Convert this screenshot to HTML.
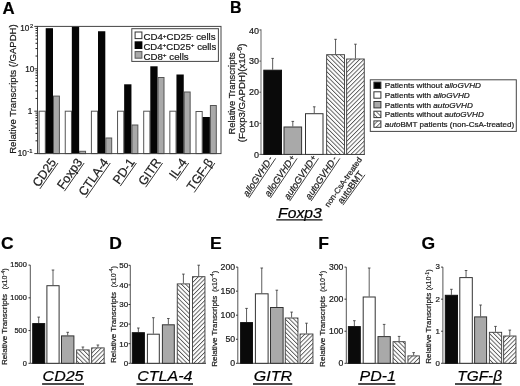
<!DOCTYPE html>
<html><head><meta charset="utf-8"><style>
html,body{margin:0;padding:0;background:#fff;}
svg{display:block;font-family:"Liberation Sans",sans-serif;filter:blur(0.3px);}
text{stroke:#222;stroke-width:0.22px;paint-order:stroke;}
</style></head><body>
<svg width="520" height="386" viewBox="0 0 520 386">
<defs>
<pattern id="hb" patternUnits="userSpaceOnUse" width="3.05" height="3.05" patternTransform="rotate(-45)"><rect width="3.05" height="3.05" fill="#fff"/><line x1="0.5" y1="0" x2="0.5" y2="3.05" stroke="#333" stroke-width="0.75"/></pattern>
<pattern id="hf" patternUnits="userSpaceOnUse" width="3.05" height="3.05" patternTransform="rotate(45)"><rect width="3.05" height="3.05" fill="#fff"/><line x1="0.5" y1="0" x2="0.5" y2="3.05" stroke="#333" stroke-width="0.75"/></pattern>
<pattern id="hbs" patternUnits="userSpaceOnUse" width="3.3" height="3.3" patternTransform="translate(374,82) rotate(-45)"><rect width="3.3" height="3.3" fill="#fff"/><line x1="0.5" y1="0" x2="0.5" y2="3.3" stroke="#444" stroke-width="0.75"/></pattern>
<pattern id="hfs" patternUnits="userSpaceOnUse" width="3.3" height="3.3" patternTransform="translate(374,82) rotate(45)"><rect width="3.3" height="3.3" fill="#fff"/><line x1="0.5" y1="0" x2="0.5" y2="3.3" stroke="#444" stroke-width="0.75"/></pattern>
</defs>
<rect width="520" height="386" fill="#fff"/>
<text x="2.60" y="14.20" font-size="16.8" text-anchor="start" font-weight="bold" font-style="normal" fill="#000" >A</text>
<rect x="39.10" y="111.20" width="6.20" height="42.40" fill="#fff" stroke="#555" stroke-width="1"/>
<rect x="45.70" y="28.20" width="7.3" height="125.40" fill="#050505"/>
<rect x="53.50" y="96.10" width="5.90" height="57.50" fill="#a9a9a9" stroke="#555" stroke-width="1"/>
<rect x="65.25" y="111.20" width="6.20" height="42.40" fill="#fff" stroke="#555" stroke-width="1"/>
<rect x="71.85" y="26.40" width="7.3" height="127.20" fill="#050505"/>
<rect x="79.65" y="151.30" width="5.90" height="2.30" fill="#a9a9a9" stroke="#555" stroke-width="1"/>
<rect x="91.40" y="111.20" width="6.20" height="42.40" fill="#fff" stroke="#555" stroke-width="1"/>
<rect x="98.00" y="31.25" width="7.3" height="122.35" fill="#050505"/>
<rect x="105.80" y="138.00" width="5.90" height="15.60" fill="#a9a9a9" stroke="#555" stroke-width="1"/>
<rect x="117.55" y="111.20" width="6.20" height="42.40" fill="#fff" stroke="#555" stroke-width="1"/>
<rect x="124.15" y="84.30" width="7.3" height="69.30" fill="#050505"/>
<rect x="131.95" y="125.00" width="5.90" height="28.60" fill="#a9a9a9" stroke="#555" stroke-width="1"/>
<rect x="143.70" y="111.20" width="6.20" height="42.40" fill="#fff" stroke="#555" stroke-width="1"/>
<rect x="150.30" y="66.30" width="7.3" height="87.30" fill="#050505"/>
<rect x="158.10" y="77.50" width="5.90" height="76.10" fill="#a9a9a9" stroke="#555" stroke-width="1"/>
<rect x="169.85" y="111.20" width="6.20" height="42.40" fill="#fff" stroke="#555" stroke-width="1"/>
<rect x="176.45" y="74.50" width="7.3" height="79.10" fill="#050505"/>
<rect x="184.25" y="92.00" width="5.90" height="61.60" fill="#a9a9a9" stroke="#555" stroke-width="1"/>
<rect x="196.00" y="111.50" width="6.20" height="42.10" fill="#fff" stroke="#555" stroke-width="1"/>
<rect x="202.60" y="117.00" width="7.3" height="36.60" fill="#050505"/>
<rect x="210.40" y="105.50" width="5.90" height="48.10" fill="#a9a9a9" stroke="#555" stroke-width="1"/>
<rect x="37.5" y="26.4" width="183.5" height="127.19999999999999" fill="none" stroke="#444" stroke-width="1"/>
<line x1="34.30" y1="153.60" x2="37.50" y2="153.60" stroke="#333" stroke-width="1"/>
<line x1="35.50" y1="140.84" x2="37.50" y2="140.84" stroke="#222" stroke-width="1.0"/>
<line x1="35.50" y1="133.37" x2="37.50" y2="133.37" stroke="#222" stroke-width="1.0"/>
<line x1="35.50" y1="128.07" x2="37.50" y2="128.07" stroke="#222" stroke-width="1.0"/>
<line x1="35.50" y1="123.96" x2="37.50" y2="123.96" stroke="#222" stroke-width="1.0"/>
<line x1="35.50" y1="120.61" x2="37.50" y2="120.61" stroke="#222" stroke-width="1.0"/>
<line x1="35.50" y1="117.77" x2="37.50" y2="117.77" stroke="#222" stroke-width="1.0"/>
<line x1="35.50" y1="115.31" x2="37.50" y2="115.31" stroke="#222" stroke-width="1.0"/>
<line x1="35.50" y1="113.14" x2="37.50" y2="113.14" stroke="#222" stroke-width="1.0"/>
<line x1="34.30" y1="111.20" x2="37.50" y2="111.20" stroke="#333" stroke-width="1"/>
<line x1="35.50" y1="98.44" x2="37.50" y2="98.44" stroke="#222" stroke-width="1.0"/>
<line x1="35.50" y1="90.97" x2="37.50" y2="90.97" stroke="#222" stroke-width="1.0"/>
<line x1="35.50" y1="85.67" x2="37.50" y2="85.67" stroke="#222" stroke-width="1.0"/>
<line x1="35.50" y1="81.56" x2="37.50" y2="81.56" stroke="#222" stroke-width="1.0"/>
<line x1="35.50" y1="78.21" x2="37.50" y2="78.21" stroke="#222" stroke-width="1.0"/>
<line x1="35.50" y1="75.37" x2="37.50" y2="75.37" stroke="#222" stroke-width="1.0"/>
<line x1="35.50" y1="72.91" x2="37.50" y2="72.91" stroke="#222" stroke-width="1.0"/>
<line x1="35.50" y1="70.74" x2="37.50" y2="70.74" stroke="#222" stroke-width="1.0"/>
<line x1="34.30" y1="68.80" x2="37.50" y2="68.80" stroke="#333" stroke-width="1"/>
<line x1="35.50" y1="56.04" x2="37.50" y2="56.04" stroke="#222" stroke-width="1.0"/>
<line x1="35.50" y1="48.57" x2="37.50" y2="48.57" stroke="#222" stroke-width="1.0"/>
<line x1="35.50" y1="43.27" x2="37.50" y2="43.27" stroke="#222" stroke-width="1.0"/>
<line x1="35.50" y1="39.16" x2="37.50" y2="39.16" stroke="#222" stroke-width="1.0"/>
<line x1="35.50" y1="35.81" x2="37.50" y2="35.81" stroke="#222" stroke-width="1.0"/>
<line x1="35.50" y1="32.97" x2="37.50" y2="32.97" stroke="#222" stroke-width="1.0"/>
<line x1="35.50" y1="30.51" x2="37.50" y2="30.51" stroke="#222" stroke-width="1.0"/>
<line x1="35.50" y1="28.34" x2="37.50" y2="28.34" stroke="#222" stroke-width="1.0"/>
<line x1="34.30" y1="26.40" x2="37.50" y2="26.40" stroke="#333" stroke-width="1"/>
<text x="29.40" y="30.60" font-size="8.2" text-anchor="end" font-weight="normal" font-style="normal" fill="#1a1a1a" >10</text>
<text x="30.00" y="28.00" font-size="5.8" text-anchor="start" font-weight="normal" font-style="normal" fill="#1a1a1a" >2</text>
<text x="34.40" y="71.90" font-size="8.2" text-anchor="end" font-weight="normal" font-style="normal" fill="#1a1a1a" >10</text>
<text x="32.40" y="114.10" font-size="8.2" text-anchor="end" font-weight="normal" font-style="normal" fill="#1a1a1a" >1</text>
<text x="26.90" y="156.00" font-size="8.2" text-anchor="end" font-weight="normal" font-style="normal" fill="#1a1a1a" >10</text>
<text x="27.30" y="153.20" font-size="5.8" text-anchor="start" font-weight="normal" font-style="normal" fill="#1a1a1a" >-1</text>
<text transform="translate(15.7,153.8) rotate(-90)" font-size="9.9" textLength="129.5" lengthAdjust="spacingAndGlyphs" fill="#1a1a1a">Relative Transcripts (/GAPDH)</text>
<rect x="131.80" y="28.70" width="86.60" height="32.70" fill="#fff" stroke="#444" stroke-width="1"/>
<rect x="135.10" y="32.00" width="6.80" height="6.60" fill="#fff" stroke="#333" stroke-width="1"/>
<rect x="134.6" y="41.3" width="7.8" height="7.7" fill="#000"/>
<rect x="135.10" y="51.60" width="6.80" height="6.60" fill="#a9a9a9" stroke="#555" stroke-width="1"/>
<text x="143.4" y="40.10" font-size="9" textLength="72.2" lengthAdjust="spacingAndGlyphs" fill="#1a1a1a">CD4<tspan font-size="6" dy="-2.6">+</tspan><tspan dy="2.6">CD25</tspan><tspan font-size="6" dy="-2.6">-</tspan><tspan dy="2.6"> cells</tspan></text>
<text x="143.4" y="49.80" font-size="9" textLength="72.9" lengthAdjust="spacingAndGlyphs" fill="#1a1a1a">CD4<tspan font-size="6" dy="-2.6">+</tspan><tspan dy="2.6">CD25</tspan><tspan font-size="6" dy="-2.6">+</tspan><tspan dy="2.6"> cells</tspan></text>
<text x="143.4" y="59.50" font-size="9" textLength="45.3" lengthAdjust="spacingAndGlyphs" fill="#1a1a1a">CD8<tspan font-size="6" dy="-2.6">+</tspan><tspan dy="2.6"> cells</tspan></text>
<g transform="translate(58.00,163.00) rotate(-55)"><text x="-31.45" y="-1.60" font-size="12.3" font-style="normal" fill="#1a1a1a">CD25</text><line x1="-31.65" y1="0" x2="0" y2="0" stroke="#1a1a1a" stroke-width="0.8"/></g>
<g transform="translate(84.15,163.00) rotate(-55)"><text x="-34.18" y="-1.60" font-size="12.3" font-style="normal" fill="#1a1a1a">Foxp3</text><line x1="-34.38" y1="0" x2="0" y2="0" stroke="#1a1a1a" stroke-width="0.8"/></g>
<g transform="translate(110.30,163.00) rotate(-55)"><text x="-42.38" y="-1.60" font-size="12.3" font-style="normal" fill="#1a1a1a">CTLA-4</text><line x1="-42.58" y1="0" x2="0" y2="0" stroke="#1a1a1a" stroke-width="0.8"/></g>
<g transform="translate(136.45,163.00) rotate(-55)"><text x="-28.02" y="-1.60" font-size="12.3" font-style="normal" fill="#1a1a1a">PD-1</text><line x1="-28.22" y1="0" x2="0" y2="0" stroke="#1a1a1a" stroke-width="0.8"/></g>
<g transform="translate(162.60,163.00) rotate(-55)"><text x="-29.38" y="-1.60" font-size="12.3" font-style="normal" fill="#1a1a1a">GITR</text><line x1="-29.58" y1="0" x2="0" y2="0" stroke="#1a1a1a" stroke-width="0.8"/></g>
<g transform="translate(188.75,163.00) rotate(-55)"><text x="-21.19" y="-1.60" font-size="12.3" font-style="normal" fill="#1a1a1a">IL-4</text><line x1="-21.39" y1="0" x2="0" y2="0" stroke="#1a1a1a" stroke-width="0.8"/></g>
<g transform="translate(214.90,163.00) rotate(-55)"><text x="-35.76" y="-1.60" font-size="12.3" font-style="normal" fill="#1a1a1a">TGF-β</text><line x1="-35.96" y1="0" x2="0" y2="0" stroke="#1a1a1a" stroke-width="0.8"/></g>
<text x="230.00" y="12.90" font-size="16" text-anchor="start" font-weight="bold" font-style="normal" fill="#000" >B</text>
<line x1="261.00" y1="29.30" x2="261.00" y2="154.40" stroke="#666" stroke-width="1"/>
<line x1="261.00" y1="154.40" x2="364.80" y2="154.40" stroke="#444" stroke-width="1"/>
<line x1="259.40" y1="154.40" x2="261.00" y2="154.40" stroke="#555" stroke-width="1"/>
<text x="258.90" y="157.60" font-size="9.0" text-anchor="end" font-weight="normal" font-style="normal" fill="#1a1a1a" >0</text>
<line x1="259.40" y1="123.30" x2="261.00" y2="123.30" stroke="#555" stroke-width="1"/>
<text x="258.90" y="126.50" font-size="9.0" text-anchor="end" font-weight="normal" font-style="normal" fill="#1a1a1a" >10</text>
<line x1="259.40" y1="92.20" x2="261.00" y2="92.20" stroke="#555" stroke-width="1"/>
<text x="258.90" y="95.40" font-size="9.0" text-anchor="end" font-weight="normal" font-style="normal" fill="#1a1a1a" >20</text>
<line x1="259.40" y1="61.10" x2="261.00" y2="61.10" stroke="#555" stroke-width="1"/>
<text x="258.90" y="64.30" font-size="9.0" text-anchor="end" font-weight="normal" font-style="normal" fill="#1a1a1a" >30</text>
<line x1="259.40" y1="30.00" x2="261.00" y2="30.00" stroke="#555" stroke-width="1"/>
<text x="258.90" y="34.20" font-size="9.0" text-anchor="end" font-weight="normal" font-style="normal" fill="#1a1a1a" >40</text>
<line x1="272.65" y1="58.40" x2="272.65" y2="69.70" stroke="#333" stroke-width="0.8"/>
<line x1="271.35" y1="58.40" x2="273.95" y2="58.40" stroke="#333" stroke-width="0.8"/>
<rect x="263.80" y="70.20" width="17.70" height="84.20" fill="#0a0a0a" stroke="#111" stroke-width="1"/>
<line x1="292.80" y1="121.40" x2="292.80" y2="126.50" stroke="#333" stroke-width="0.8"/>
<line x1="291.50" y1="121.40" x2="294.10" y2="121.40" stroke="#333" stroke-width="0.8"/>
<rect x="284.00" y="127.00" width="17.60" height="27.40" fill="#a9a9a9" stroke="#333" stroke-width="1"/>
<line x1="314.25" y1="106.80" x2="314.25" y2="113.20" stroke="#333" stroke-width="0.8"/>
<line x1="312.95" y1="106.80" x2="315.55" y2="106.80" stroke="#333" stroke-width="0.8"/>
<rect x="305.50" y="113.70" width="17.50" height="40.70" fill="#fff" stroke="#333" stroke-width="1"/>
<line x1="335.55" y1="39.30" x2="335.55" y2="54.20" stroke="#333" stroke-width="0.8"/>
<line x1="334.25" y1="39.30" x2="336.85" y2="39.30" stroke="#333" stroke-width="0.8"/>
<rect x="326.65" y="54.70" width="17.80" height="99.70" fill="url(#hb)" stroke="#3a3a3a" stroke-width="0.9"/>
<line x1="355.45" y1="44.20" x2="355.45" y2="58.50" stroke="#333" stroke-width="0.8"/>
<line x1="354.15" y1="44.20" x2="356.75" y2="44.20" stroke="#333" stroke-width="0.8"/>
<rect x="346.65" y="59.00" width="17.60" height="95.40" fill="url(#hf)" stroke="#3a3a3a" stroke-width="0.9"/>
<text transform="translate(235.4,134.6) rotate(-90)" font-size="9.2" textLength="82.3" lengthAdjust="spacingAndGlyphs" fill="#1a1a1a">Relative Transcripts</text>
<text transform="translate(245.0,142.2) rotate(-90)" font-size="9.2" textLength="98.6" lengthAdjust="spacingAndGlyphs" fill="#1a1a1a">(Foxp3/GAPDH)(x10<tspan font-size="6.6" dy="-3.4">-6</tspan><tspan dy="3.4">)</tspan></text>
<rect x="370.30" y="79.80" width="146.00" height="51.60" fill="#fff" stroke="#444" stroke-width="1"/>
<rect x="373.90" y="82.10" width="7.00" height="6.40" fill="#000" stroke="#333" stroke-width="1"/>
<text x="384.8" y="88.30" font-size="8" textLength="96.2" lengthAdjust="spacingAndGlyphs" fill="#1a1a1a">Patients without <tspan font-style="italic">alloGVHD</tspan></text>
<rect x="373.90" y="91.80" width="7.00" height="6.40" fill="#fff" stroke="#333" stroke-width="1"/>
<text x="384.8" y="98.00" font-size="8" textLength="85.0" lengthAdjust="spacingAndGlyphs" fill="#1a1a1a">Patients with <tspan font-style="italic">alloGVHD</tspan></text>
<rect x="373.90" y="101.50" width="7.00" height="6.40" fill="#a9a9a9" stroke="#333" stroke-width="1"/>
<text x="384.8" y="107.70" font-size="8" textLength="88.0" lengthAdjust="spacingAndGlyphs" fill="#1a1a1a">Patients with <tspan font-style="italic">autoGVHD</tspan></text>
<rect x="373.90" y="111.20" width="7.00" height="6.40" fill="url(#hbs)" stroke="#333" stroke-width="1"/>
<text x="384.8" y="117.40" font-size="8" textLength="99.0" lengthAdjust="spacingAndGlyphs" fill="#1a1a1a">Patients without <tspan font-style="italic">autoGVHD</tspan></text>
<rect x="373.90" y="120.90" width="7.00" height="6.40" fill="url(#hfs)" stroke="#333" stroke-width="1"/>
<text x="384.8" y="127.10" font-size="8" textLength="129.4" lengthAdjust="spacingAndGlyphs" fill="#1a1a1a"><tspan font-style="italic">auto</tspan>BMT patients (non-CsA-treated)</text>
<g transform="translate(275.60,158.40) rotate(-56)"><text x="-47.69" y="-1.40" font-size="9.4" font-style="italic" fill="#1a1a1a">alloGVHD</text><line x1="-47.89" y1="0" x2="0" y2="0" stroke="#1a1a1a" stroke-width="0.75"/><text x="-4.30" y="-2.30" font-size="8.2" fill="#1a1a1a">-</text></g>
<g transform="translate(297.10,158.40) rotate(-56)"><text x="-47.69" y="-1.40" font-size="9.4" font-style="italic" fill="#1a1a1a">alloGVHD</text><line x1="-47.89" y1="0" x2="0" y2="0" stroke="#1a1a1a" stroke-width="0.75"/><text x="-5.00" y="-2.30" font-size="8.2" fill="#1a1a1a">+</text></g>
<g transform="translate(318.50,158.40) rotate(-56)"><text x="-51.35" y="-1.40" font-size="9.4" font-style="italic" fill="#1a1a1a">autoGVHD</text><line x1="-51.55" y1="0" x2="0" y2="0" stroke="#1a1a1a" stroke-width="0.75"/><text x="-5.00" y="-2.30" font-size="8.2" fill="#1a1a1a">+</text></g>
<g transform="translate(339.90,158.40) rotate(-56)"><text x="-51.35" y="-1.40" font-size="9.4" font-style="italic" fill="#1a1a1a">autoGVHD</text><line x1="-51.55" y1="0" x2="0" y2="0" stroke="#1a1a1a" stroke-width="0.75"/><text x="-4.30" y="-2.30" font-size="8.2" fill="#1a1a1a">-</text></g>
<g transform="translate(362.40,159.60) rotate(-55)"><text x="-58.69" y="0.00" font-size="8.0" font-style="normal" fill="#1a1a1a">non-CsA-treated</text></g>
<g transform="translate(365.00,174.80) rotate(-54)"><text x="-37.32" y="-1.40" font-size="9.2" font-style="normal" fill="#1a1a1a">autoBMT</text><line x1="-37.52" y1="0" x2="0" y2="0" stroke="#1a1a1a" stroke-width="0.75"/></g>
<text x="278.1" y="217.6" font-size="15.2" font-style="italic" textLength="43.67" lengthAdjust="spacingAndGlyphs" fill="#000">Foxp3</text>
<line x1="276.30" y1="219.90" x2="322.50" y2="219.90" stroke="#111" stroke-width="1.3"/>
<text transform="translate(0.90,248.8) scale(1.1,1)" font-size="15.9" font-weight="bold" fill="#000">C</text>
<line x1="30.30" y1="265.10" x2="30.30" y2="363.30" stroke="#555" stroke-width="1"/>
<line x1="30.30" y1="363.30" x2="105.40" y2="363.30" stroke="#444" stroke-width="1"/>
<line x1="28.50" y1="363.30" x2="30.30" y2="363.30" stroke="#333" stroke-width="1"/>
<text x="26.80" y="365.95" font-size="7.4" text-anchor="end" font-weight="normal" font-style="normal" fill="#1a1a1a" >0</text>
<line x1="28.50" y1="330.57" x2="30.30" y2="330.57" stroke="#333" stroke-width="1"/>
<text x="26.80" y="333.22" font-size="7.4" text-anchor="end" font-weight="normal" font-style="normal" fill="#1a1a1a" >500</text>
<line x1="28.50" y1="297.83" x2="30.30" y2="297.83" stroke="#333" stroke-width="1"/>
<text x="26.80" y="300.48" font-size="7.4" text-anchor="end" font-weight="normal" font-style="normal" fill="#1a1a1a" >1000</text>
<line x1="28.50" y1="265.10" x2="30.30" y2="265.10" stroke="#333" stroke-width="1"/>
<text x="26.80" y="267.15" font-size="7.4" text-anchor="end" font-weight="normal" font-style="normal" fill="#1a1a1a" >1500</text>
<line x1="38.70" y1="317.10" x2="38.70" y2="323.10" stroke="#333" stroke-width="0.8"/>
<line x1="37.40" y1="317.10" x2="40.00" y2="317.10" stroke="#333" stroke-width="0.8"/>
<rect x="32.70" y="323.60" width="12.00" height="39.70" fill="#0a0a0a" stroke="#111" stroke-width="1"/>
<line x1="53.00" y1="270.00" x2="53.00" y2="285.20" stroke="#333" stroke-width="0.8"/>
<line x1="51.70" y1="270.00" x2="54.30" y2="270.00" stroke="#333" stroke-width="0.8"/>
<rect x="46.90" y="285.70" width="12.20" height="77.60" fill="#fff" stroke="#333" stroke-width="1"/>
<line x1="67.70" y1="332.30" x2="67.70" y2="335.40" stroke="#333" stroke-width="0.8"/>
<line x1="66.40" y1="332.30" x2="69.00" y2="332.30" stroke="#333" stroke-width="0.8"/>
<rect x="61.50" y="335.90" width="12.40" height="27.40" fill="#a9a9a9" stroke="#333" stroke-width="1"/>
<line x1="82.90" y1="347.00" x2="82.90" y2="349.40" stroke="#333" stroke-width="0.8"/>
<line x1="81.60" y1="347.00" x2="84.20" y2="347.00" stroke="#333" stroke-width="0.8"/>
<rect x="76.65" y="349.90" width="12.50" height="13.40" fill="url(#hb)" stroke="#3a3a3a" stroke-width="0.9"/>
<line x1="97.90" y1="345.00" x2="97.90" y2="347.40" stroke="#333" stroke-width="0.8"/>
<line x1="96.60" y1="345.00" x2="99.20" y2="345.00" stroke="#333" stroke-width="0.8"/>
<rect x="91.65" y="347.90" width="12.50" height="15.40" fill="url(#hf)" stroke="#3a3a3a" stroke-width="0.9"/>
<text x="42.60" y="381.2" font-size="15" font-style="italic" textLength="40.91" lengthAdjust="spacingAndGlyphs" fill="#000">CD25</text>
<line x1="42.10" y1="384.00" x2="84.00" y2="384.00" stroke="#111" stroke-width="1.3"/>
<g transform="translate(7.30,365.00) rotate(-90)"><text x="0" y="0" font-size="8.1" fill="#1a1a1a">Relative Transcripts</text><text x="75.50" y="0" font-size="6.4" textLength="21.3" lengthAdjust="spacingAndGlyphs" fill="#1a1a1a" style="stroke-width:0.12px">(x10<tspan font-size="4.7" dy="-2.5">-4</tspan><tspan dy="2.5">)</tspan></text></g>
<text transform="translate(109.30,248.8) scale(1.1,1)" font-size="15.9" font-weight="bold" fill="#000">D</text>
<line x1="130.30" y1="265.30" x2="130.30" y2="363.30" stroke="#555" stroke-width="1"/>
<line x1="130.30" y1="363.30" x2="206.00" y2="363.30" stroke="#444" stroke-width="1"/>
<line x1="128.50" y1="363.30" x2="130.30" y2="363.30" stroke="#333" stroke-width="1"/>
<text x="128.20" y="366.16" font-size="8.0" text-anchor="end" font-weight="normal" font-style="normal" fill="#1a1a1a" >0</text>
<line x1="128.50" y1="343.70" x2="130.30" y2="343.70" stroke="#333" stroke-width="1"/>
<text x="128.20" y="346.56" font-size="8.0" text-anchor="end" font-weight="normal" font-style="normal" fill="#1a1a1a" >10</text>
<line x1="128.50" y1="324.10" x2="130.30" y2="324.10" stroke="#333" stroke-width="1"/>
<text x="128.20" y="326.96" font-size="8.0" text-anchor="end" font-weight="normal" font-style="normal" fill="#1a1a1a" >20</text>
<line x1="128.50" y1="304.50" x2="130.30" y2="304.50" stroke="#333" stroke-width="1"/>
<text x="128.20" y="307.36" font-size="8.0" text-anchor="end" font-weight="normal" font-style="normal" fill="#1a1a1a" >30</text>
<line x1="128.50" y1="284.90" x2="130.30" y2="284.90" stroke="#333" stroke-width="1"/>
<text x="128.20" y="287.76" font-size="8.0" text-anchor="end" font-weight="normal" font-style="normal" fill="#1a1a1a" >40</text>
<line x1="128.50" y1="265.30" x2="130.30" y2="265.30" stroke="#333" stroke-width="1"/>
<text x="128.20" y="267.56" font-size="8.0" text-anchor="end" font-weight="normal" font-style="normal" fill="#1a1a1a" >50</text>
<line x1="138.35" y1="328.00" x2="138.35" y2="332.20" stroke="#333" stroke-width="0.8"/>
<line x1="137.05" y1="328.00" x2="139.65" y2="328.00" stroke="#333" stroke-width="0.8"/>
<rect x="132.30" y="332.70" width="12.10" height="30.60" fill="#0a0a0a" stroke="#111" stroke-width="1"/>
<line x1="153.35" y1="317.70" x2="153.35" y2="333.70" stroke="#333" stroke-width="0.8"/>
<line x1="152.05" y1="317.70" x2="154.65" y2="317.70" stroke="#333" stroke-width="0.8"/>
<rect x="147.40" y="334.20" width="11.90" height="29.10" fill="#fff" stroke="#333" stroke-width="1"/>
<line x1="168.35" y1="318.50" x2="168.35" y2="324.30" stroke="#333" stroke-width="0.8"/>
<line x1="167.05" y1="318.50" x2="169.65" y2="318.50" stroke="#333" stroke-width="0.8"/>
<rect x="162.40" y="324.80" width="11.90" height="38.50" fill="#a9a9a9" stroke="#333" stroke-width="1"/>
<line x1="183.40" y1="274.10" x2="183.40" y2="283.40" stroke="#333" stroke-width="0.8"/>
<line x1="182.10" y1="274.10" x2="184.70" y2="274.10" stroke="#333" stroke-width="0.8"/>
<rect x="177.25" y="283.90" width="12.30" height="79.40" fill="url(#hb)" stroke="#3a3a3a" stroke-width="0.9"/>
<line x1="198.70" y1="265.20" x2="198.70" y2="276.20" stroke="#333" stroke-width="0.8"/>
<line x1="197.40" y1="265.20" x2="200.00" y2="265.20" stroke="#333" stroke-width="0.8"/>
<rect x="192.45" y="276.70" width="12.50" height="86.60" fill="url(#hf)" stroke="#3a3a3a" stroke-width="0.9"/>
<text x="137.30" y="381.2" font-size="15" font-style="italic" textLength="55.12" lengthAdjust="spacingAndGlyphs" fill="#000">CTLA-4</text>
<line x1="136.50" y1="384.00" x2="193.00" y2="384.00" stroke="#111" stroke-width="1.3"/>
<g transform="translate(115.80,363.00) rotate(-90)"><text x="0" y="0" font-size="8.1" fill="#1a1a1a">Relative Transcripts</text><text x="75.60" y="0" font-size="6.4" textLength="21.3" lengthAdjust="spacingAndGlyphs" fill="#1a1a1a" style="stroke-width:0.12px">(x10<tspan font-size="4.7" dy="-2.5">-4</tspan><tspan dy="2.5">)</tspan></text></g>
<text transform="translate(209.90,248.8) scale(1.1,1)" font-size="15.9" font-weight="bold" fill="#000">E</text>
<line x1="237.80" y1="267.10" x2="237.80" y2="363.30" stroke="#555" stroke-width="1"/>
<line x1="237.80" y1="363.30" x2="313.50" y2="363.30" stroke="#444" stroke-width="1"/>
<line x1="236.00" y1="363.30" x2="237.80" y2="363.30" stroke="#333" stroke-width="1"/>
<text x="235.10" y="366.41" font-size="8.7" text-anchor="end" font-weight="normal" font-style="normal" fill="#1a1a1a" >0</text>
<line x1="236.00" y1="339.25" x2="237.80" y2="339.25" stroke="#333" stroke-width="1"/>
<text x="235.10" y="342.36" font-size="8.7" text-anchor="end" font-weight="normal" font-style="normal" fill="#1a1a1a" >50</text>
<line x1="236.00" y1="315.20" x2="237.80" y2="315.20" stroke="#333" stroke-width="1"/>
<text x="235.10" y="318.31" font-size="8.7" text-anchor="end" font-weight="normal" font-style="normal" fill="#1a1a1a" >100</text>
<line x1="236.00" y1="291.15" x2="237.80" y2="291.15" stroke="#333" stroke-width="1"/>
<text x="235.10" y="294.26" font-size="8.7" text-anchor="end" font-weight="normal" font-style="normal" fill="#1a1a1a" >150</text>
<line x1="236.00" y1="267.10" x2="237.80" y2="267.10" stroke="#333" stroke-width="1"/>
<text x="235.10" y="269.61" font-size="8.7" text-anchor="end" font-weight="normal" font-style="normal" fill="#1a1a1a" >200</text>
<line x1="246.55" y1="308.40" x2="246.55" y2="322.10" stroke="#333" stroke-width="0.8"/>
<line x1="245.25" y1="308.40" x2="247.85" y2="308.40" stroke="#333" stroke-width="0.8"/>
<rect x="240.60" y="322.60" width="11.90" height="40.70" fill="#0a0a0a" stroke="#111" stroke-width="1"/>
<line x1="261.75" y1="268.00" x2="261.75" y2="293.30" stroke="#333" stroke-width="0.8"/>
<line x1="260.45" y1="268.00" x2="263.05" y2="268.00" stroke="#333" stroke-width="0.8"/>
<rect x="255.40" y="293.80" width="12.70" height="69.50" fill="#fff" stroke="#333" stroke-width="1"/>
<line x1="276.80" y1="290.20" x2="276.80" y2="307.00" stroke="#333" stroke-width="0.8"/>
<line x1="275.50" y1="290.20" x2="278.10" y2="290.20" stroke="#333" stroke-width="0.8"/>
<rect x="270.50" y="307.50" width="12.60" height="55.80" fill="#a9a9a9" stroke="#333" stroke-width="1"/>
<line x1="291.60" y1="312.10" x2="291.60" y2="317.50" stroke="#333" stroke-width="0.8"/>
<line x1="290.30" y1="312.10" x2="292.90" y2="312.10" stroke="#333" stroke-width="0.8"/>
<rect x="285.25" y="318.00" width="12.70" height="45.30" fill="url(#hb)" stroke="#3a3a3a" stroke-width="0.9"/>
<line x1="306.50" y1="323.20" x2="306.50" y2="333.50" stroke="#333" stroke-width="0.8"/>
<line x1="305.20" y1="323.20" x2="307.80" y2="323.20" stroke="#333" stroke-width="0.8"/>
<rect x="300.05" y="334.00" width="12.90" height="29.30" fill="url(#hf)" stroke="#3a3a3a" stroke-width="0.9"/>
<text x="253.80" y="381.2" font-size="15" font-style="italic" textLength="38.22" lengthAdjust="spacingAndGlyphs" fill="#000">GITR</text>
<line x1="253.00" y1="384.00" x2="292.30" y2="384.00" stroke="#111" stroke-width="1.3"/>
<g transform="translate(216.60,366.80) rotate(-90)"><text x="0" y="0" font-size="8.1" fill="#1a1a1a">Relative Transcripts</text><text x="74.70" y="0" font-size="6.4" textLength="21.3" lengthAdjust="spacingAndGlyphs" fill="#1a1a1a" style="stroke-width:0.12px">(x10<tspan font-size="4.7" dy="-2.5">-4</tspan><tspan dy="2.5">)</tspan></text></g>
<text transform="translate(318.30,248.8) scale(1.1,1)" font-size="15.9" font-weight="bold" fill="#000">F</text>
<line x1="346.30" y1="267.10" x2="346.30" y2="363.30" stroke="#555" stroke-width="1"/>
<line x1="346.30" y1="363.30" x2="420.00" y2="363.30" stroke="#444" stroke-width="1"/>
<line x1="344.50" y1="363.30" x2="346.30" y2="363.30" stroke="#333" stroke-width="1"/>
<text x="343.40" y="366.41" font-size="8.7" text-anchor="end" font-weight="normal" font-style="normal" fill="#1a1a1a" >0</text>
<line x1="344.50" y1="331.23" x2="346.30" y2="331.23" stroke="#333" stroke-width="1"/>
<text x="343.40" y="334.35" font-size="8.7" text-anchor="end" font-weight="normal" font-style="normal" fill="#1a1a1a" >100</text>
<line x1="344.50" y1="299.17" x2="346.30" y2="299.17" stroke="#333" stroke-width="1"/>
<text x="343.40" y="302.28" font-size="8.7" text-anchor="end" font-weight="normal" font-style="normal" fill="#1a1a1a" >200</text>
<line x1="344.50" y1="267.10" x2="346.30" y2="267.10" stroke="#333" stroke-width="1"/>
<text x="343.40" y="269.61" font-size="8.7" text-anchor="end" font-weight="normal" font-style="normal" fill="#1a1a1a" >300</text>
<line x1="354.35" y1="320.70" x2="354.35" y2="326.10" stroke="#333" stroke-width="0.8"/>
<line x1="353.05" y1="320.70" x2="355.65" y2="320.70" stroke="#333" stroke-width="0.8"/>
<rect x="348.40" y="326.60" width="11.90" height="36.70" fill="#0a0a0a" stroke="#111" stroke-width="1"/>
<line x1="369.20" y1="268.00" x2="369.20" y2="296.50" stroke="#333" stroke-width="0.8"/>
<line x1="367.90" y1="268.00" x2="370.50" y2="268.00" stroke="#333" stroke-width="0.8"/>
<rect x="363.20" y="297.00" width="12.00" height="66.30" fill="#fff" stroke="#333" stroke-width="1"/>
<line x1="384.15" y1="324.40" x2="384.15" y2="336.10" stroke="#333" stroke-width="0.8"/>
<line x1="382.85" y1="324.40" x2="385.45" y2="324.40" stroke="#333" stroke-width="0.8"/>
<rect x="378.00" y="336.60" width="12.30" height="26.70" fill="#a9a9a9" stroke="#333" stroke-width="1"/>
<line x1="399.10" y1="336.40" x2="399.10" y2="341.20" stroke="#333" stroke-width="0.8"/>
<line x1="397.80" y1="336.40" x2="400.40" y2="336.40" stroke="#333" stroke-width="0.8"/>
<rect x="393.05" y="341.70" width="12.10" height="21.60" fill="url(#hb)" stroke="#3a3a3a" stroke-width="0.9"/>
<line x1="413.65" y1="352.60" x2="413.65" y2="355.40" stroke="#333" stroke-width="0.8"/>
<line x1="412.35" y1="352.60" x2="414.95" y2="352.60" stroke="#333" stroke-width="0.8"/>
<rect x="407.95" y="355.90" width="11.40" height="7.40" fill="url(#hf)" stroke="#3a3a3a" stroke-width="0.9"/>
<text x="359.50" y="381.2" font-size="15" font-style="italic" textLength="36.45" lengthAdjust="spacingAndGlyphs" fill="#000">PD-1</text>
<line x1="358.20" y1="384.00" x2="395.40" y2="384.00" stroke="#111" stroke-width="1.3"/>
<g transform="translate(325.20,366.90) rotate(-90)"><text x="0" y="0" font-size="8.1" fill="#1a1a1a">Relative Transcripts</text><text x="74.80" y="0" font-size="6.4" textLength="21.3" lengthAdjust="spacingAndGlyphs" fill="#1a1a1a" style="stroke-width:0.12px">(x10<tspan font-size="4.7" dy="-2.5">-4</tspan><tspan dy="2.5">)</tspan></text></g>
<text transform="translate(421.60,248.8) scale(1.1,1)" font-size="15.9" font-weight="bold" fill="#000">G</text>
<line x1="442.90" y1="267.10" x2="442.90" y2="363.30" stroke="#555" stroke-width="1"/>
<line x1="442.90" y1="363.30" x2="516.60" y2="363.30" stroke="#444" stroke-width="1"/>
<line x1="441.10" y1="363.30" x2="442.90" y2="363.30" stroke="#333" stroke-width="1"/>
<text x="439.80" y="366.13" font-size="7.9" text-anchor="end" font-weight="normal" font-style="normal" fill="#1a1a1a" >0</text>
<line x1="441.10" y1="331.23" x2="442.90" y2="331.23" stroke="#333" stroke-width="1"/>
<text x="439.80" y="334.06" font-size="7.9" text-anchor="end" font-weight="normal" font-style="normal" fill="#1a1a1a" >1</text>
<line x1="441.10" y1="299.17" x2="442.90" y2="299.17" stroke="#333" stroke-width="1"/>
<text x="439.80" y="301.99" font-size="7.9" text-anchor="end" font-weight="normal" font-style="normal" fill="#1a1a1a" >2</text>
<line x1="441.10" y1="267.10" x2="442.90" y2="267.10" stroke="#333" stroke-width="1"/>
<text x="439.80" y="269.33" font-size="7.9" text-anchor="end" font-weight="normal" font-style="normal" fill="#1a1a1a" >3</text>
<line x1="451.40" y1="289.30" x2="451.40" y2="294.80" stroke="#333" stroke-width="0.8"/>
<line x1="450.10" y1="289.30" x2="452.70" y2="289.30" stroke="#333" stroke-width="0.8"/>
<rect x="445.30" y="295.30" width="12.20" height="68.00" fill="#0a0a0a" stroke="#111" stroke-width="1"/>
<line x1="466.05" y1="270.50" x2="466.05" y2="277.10" stroke="#333" stroke-width="0.8"/>
<line x1="464.75" y1="270.50" x2="467.35" y2="270.50" stroke="#333" stroke-width="0.8"/>
<rect x="459.80" y="277.60" width="12.50" height="85.70" fill="#fff" stroke="#333" stroke-width="1"/>
<line x1="480.60" y1="305.00" x2="480.60" y2="316.40" stroke="#333" stroke-width="0.8"/>
<line x1="479.30" y1="305.00" x2="481.90" y2="305.00" stroke="#333" stroke-width="0.8"/>
<rect x="474.60" y="316.90" width="12.00" height="46.40" fill="#a9a9a9" stroke="#333" stroke-width="1"/>
<line x1="495.50" y1="326.40" x2="495.50" y2="331.80" stroke="#333" stroke-width="0.8"/>
<line x1="494.20" y1="326.40" x2="496.80" y2="326.40" stroke="#333" stroke-width="0.8"/>
<rect x="489.35" y="332.30" width="12.30" height="31.00" fill="url(#hb)" stroke="#3a3a3a" stroke-width="0.9"/>
<line x1="509.80" y1="330.10" x2="509.80" y2="335.50" stroke="#333" stroke-width="0.8"/>
<line x1="508.50" y1="330.10" x2="511.10" y2="330.10" stroke="#333" stroke-width="0.8"/>
<rect x="503.65" y="336.00" width="12.30" height="27.30" fill="url(#hf)" stroke="#3a3a3a" stroke-width="0.9"/>
<text x="457.30" y="381.2" font-size="15" font-style="italic" textLength="44.72" lengthAdjust="spacingAndGlyphs" fill="#000">TGF-&#946;</text>
<line x1="455.00" y1="384.00" x2="501.50" y2="384.00" stroke="#111" stroke-width="1.3"/>
<g transform="translate(431.40,363.80) rotate(-90)"><text x="0" y="0" font-size="8.1" fill="#1a1a1a">Relative Transcripts</text><text x="73.20" y="0" font-size="6.4" textLength="21.3" lengthAdjust="spacingAndGlyphs" fill="#1a1a1a" style="stroke-width:0.12px">(x10<tspan font-size="4.7" dy="-2.5">-1</tspan><tspan dy="2.5">)</tspan></text></g>
</svg>
</body></html>
